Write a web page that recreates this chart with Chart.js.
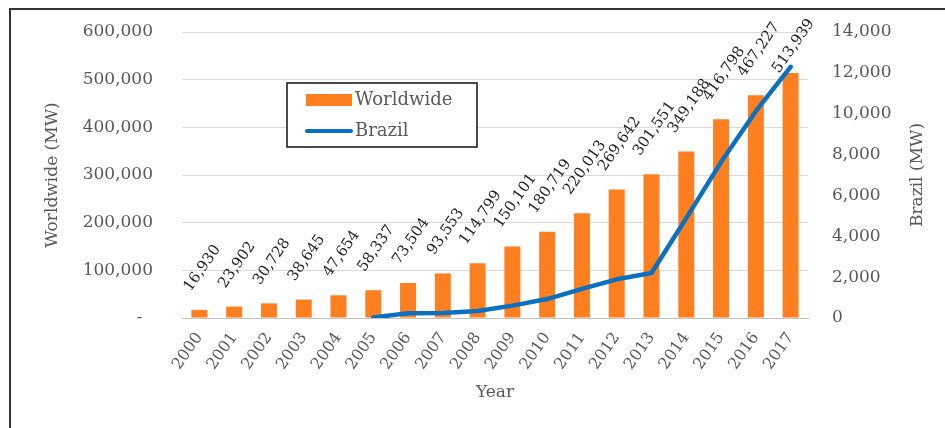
<!DOCTYPE html>
<html>
<head>
<meta charset="utf-8">
<script src="https://cdn.jsdelivr.net/npm/chart.js@4.4.0/dist/chart.umd.min.js"></script>
<style>
  body { margin: 0; background: #fff; }
  #wrap { position: relative; width: 945px; height: 428px; overflow: hidden; }
  #frame { position: absolute; left: 9px; top: 8px; width: 1000px; height: 500px; border: 2px solid #333; box-sizing: border-box; }
  canvas { position: absolute; left: 0; top: 0; }
</style>
</head>
<body>
<div id="wrap">
  <div id="frame"></div>
  <canvas id="windChart" width="945" height="428"></canvas>
</div>
<script>
// Installed wind capacity (MW)
const years = ['2000', '2001', '2002', '2003', '2004', '2005', '2006', '2007', '2008',
               '2009', '2010', '2011', '2012', '2013', '2014', '2015', '2016', '2017'];
const worldwide = [16930, 23902, 30728, 38645, 47654, 58337, 73504, 93553, 114799,
                   150101, 180719, 220013, 269642, 301551, 349188, 416798, 467227, 513939];
const brazil = [null, null, null, null, null, 27, 237, 247, 341,
                606, 927, 1426, 1894, 2202, 4888, 7633, 10124, 12294];
const leftTicks = [0, 100000, 200000, 300000, 400000, 500000, 600000];
const rightTicks = [0, 2000, 4000, 6000, 8000, 10000, 12000, 14000];

const FONT = '"DejaVu Serif", "Liberation Serif", serif';
const ORANGE = '#fd7f1f';
const BLUE = '#0a70bf';
const TICK_GRAY = '#595959';
const ANGLE = 55;

const fmt = v => v.toLocaleString('en-US');

// rotated value labels above bars
const barLabels = {
    id: 'barLabels',
    afterDatasetsDraw(chart) {
        const ctx = chart.ctx;
        const meta = chart.getDatasetMeta(0);
        const angle = ANGLE * Math.PI / 180;
        ctx.save();
        ctx.font = '15px ' + FONT;
        ctx.fillStyle = '#1f1f1f';
        ctx.textAlign = 'center';
        ctx.textBaseline = 'middle';
        meta.data.forEach((bar, i) => {
            const text = fmt(worldwide[i]);
            const w = ctx.measureText(text).width;
            const halfV = (w * Math.sin(angle) + 11 * Math.cos(angle)) / 2;
            let cy = bar.y - 17 - halfV;
            cy = Math.max(cy, chart.chartArea.top + 14);
            ctx.save();
            ctx.translate(bar.x + 3, cy);
            ctx.rotate(-angle);
            ctx.fillText(text, 0, 0);
            ctx.restore();
        });
        ctx.restore();
    }
};

// boxed legend floating inside the plot, plus the right axis title read bottom-up
const boxLegend = {
    id: 'boxLegend',
    afterDraw(chart) {
        const ctx = chart.ctx;
        ctx.save();
        ctx.strokeStyle = '#111';
        ctx.lineWidth = 1.5;
        ctx.fillStyle = '#fff';
        ctx.fillRect(287, 83, 190, 64);
        ctx.strokeRect(287, 83, 190, 64);
        ctx.fillStyle = ORANGE;
        ctx.fillRect(306, 94, 46, 12);
        ctx.strokeStyle = BLUE;
        ctx.lineWidth = 4;
        ctx.lineCap = 'round';
        ctx.beginPath();
        ctx.moveTo(307, 131);
        ctx.lineTo(351, 131);
        ctx.stroke();
        ctx.font = '18px ' + FONT;
        ctx.fillStyle = TICK_GRAY;
        ctx.textBaseline = 'middle';
        ctx.fillText(chart.data.datasets[0].label, 355, 100);
        ctx.fillText(chart.data.datasets[1].label, 355, 131);

        const area = chart.chartArea;
        ctx.translate(918, (area.top + area.bottom) / 2);
        ctx.rotate(-Math.PI / 2);
        ctx.textAlign = 'center';
        ctx.font = '17px ' + FONT;
        ctx.fillText('Brazil (MW)', 0, 0);
        ctx.restore();
    }
};

const ctx = document.getElementById('windChart').getContext('2d');
new Chart(ctx, {
    data: {
        labels: years,
        datasets: [
            {
                type: 'bar',
                label: 'Worldwide',
                data: worldwide,
                backgroundColor: ORANGE,
                yAxisID: 'y',
                categoryPercentage: 1,
                barPercentage: 0.46,
                order: 2
            },
            {
                type: 'line',
                label: 'Brazil',
                data: brazil,
                borderColor: BLUE,
                backgroundColor: BLUE,
                borderWidth: 4.5,
                pointRadius: 0,
                tension: 0,
                borderCapStyle: 'round',
                borderJoinStyle: 'round',
                yAxisID: 'y1',
                order: 1
            }
        ]
    },
    options: {
        responsive: false,
        animation: false,
        layout: { padding: { left: 38, right: 14, top: 32, bottom: 21 } },
        plugins: {
            legend: { display: false },
            tooltip: { enabled: false }
        },
        scales: {
            x: {
                grid: { display: false, drawTicks: false },
                border: { display: true, color: '#bfbfbf', width: 1 },
                ticks: {
                    color: TICK_GRAY,
                    font: { family: FONT, size: 16 },
                    minRotation: ANGLE,
                    maxRotation: ANGLE,
                    padding: 11,
                    autoSkip: false
                },
                title: {
                    display: true,
                    text: 'Year',
                    color: TICK_GRAY,
                    font: { family: FONT, size: 17 },
                    padding: { top: 4, bottom: 4 }
                },
                afterFit: s => { s.height = 89; }
            },
            y: {
                position: 'left',
                min: 0,
                max: 600000,
                afterBuildTicks: s => { s.ticks = leftTicks.map(v => ({ value: v })); },
                grid: { color: '#d9d9d9', lineWidth: 1, drawTicks: true, tickLength: 25, tickColor: 'rgba(0,0,0,0)' },
                border: { display: false },
                ticks: {
                    color: TICK_GRAY,
                    font: { family: FONT, size: 17 },
                    padding: 4,
                    callback: v => v === 0 ? '-\u00a0\u00a0' : fmt(v)
                },
                title: {
                    display: true,
                    text: 'Worldwide (MW)',
                    color: TICK_GRAY,
                    font: { family: FONT, size: 17 },
                    padding: { top: 4, bottom: 4 }
                },
                afterFit: s => { s.width = 144; }
            },
            y1: {
                position: 'right',
                min: 0,
                max: 14000,
                afterBuildTicks: s => { s.ticks = rightTicks.map(v => ({ value: v })); },
                grid: { drawOnChartArea: false, drawTicks: true, tickLength: 20, tickColor: 'rgba(0,0,0,0)' },
                border: { display: false },
                ticks: {
                    color: TICK_GRAY,
                    font: { family: FONT, size: 17 },
                    padding: 4,
                    callback: v => fmt(v)
                },
                afterFit: s => { s.width = 123; }
            }
        }
    },
    plugins: [barLabels, boxLegend]
});
</script>
</body>
</html>
